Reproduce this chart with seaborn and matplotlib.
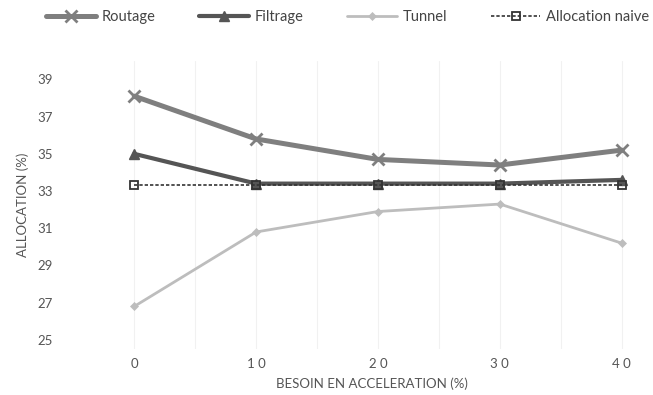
import matplotlib
matplotlib.use("Agg")
import matplotlib.pyplot as plt
import seaborn as sns
import pandas as pd

# Besoin en accélération (%)
besoin = [0, 10, 20, 30, 40]

# Allocation (%) per strategy
routage = [38.1, 35.8, 34.7, 34.4, 35.2]
filtrage = [35.0, 33.4, 33.4, 33.4, 33.6]
tunnel = [26.8, 30.8, 31.9, 32.3, 30.2]
naive = [33.3, 33.3, 33.3, 33.3, 33.3]

series_names = ["Routage", "Filtrage", "Tunnel", "Allocation naive"]
y_ticks = [25, 27, 29, 31, 33, 35, 37, 39]
x_ticks = [0, 10, 20, 30, 40]

df = pd.DataFrame({
    "besoin": besoin * 4,
    "allocation": routage + filtrage + tunnel + naive,
    "serie": sum([[n] * len(besoin) for n in series_names], []),
})

sns.set_theme(style="white")
plt.rcParams["font.family"] = ["Lato", "DejaVu Sans"]

fig = plt.figure(figsize=(6.53, 3.95), dpi=100)
ax = fig.add_axes([0.159, 0.116, 0.821, 0.730])

styles = {
    "Routage": dict(color="#7f7f7f", lw=3.6, marker="x", ms=8, mew=2.0, ls="-", zorder=4),
    "Filtrage": dict(color="#555555", lw=3.0, marker="^", ms=7, mew=1, ls="-", zorder=5),
    "Tunnel": dict(color="#bdbdbd", lw=2.0, marker="D", ms=4, mew=0.5, ls="-", zorder=3),
    "Allocation naive": dict(color="#333333", lw=1.2, marker="s", ms=6, mew=1.3, ls=(0, (2, 1.2)),
                             zorder=6, mfc="none"),
}

for name in series_names:
    st = dict(styles[name])
    z = st.pop("zorder")
    ls = st.pop("ls")
    mfc = st.pop("mfc", st["color"])
    sub = df[df["serie"] == name]
    sns.lineplot(data=sub, x="besoin", y="allocation", ax=ax, label=name,
                 linestyle=ls, markerfacecolor=mfc, markeredgecolor=st["color"],
                 zorder=z, **st)

ax.set_xlim(-2.5, 41.5)
ax.set_ylim(24.5, 40)
ax.set_yticks(y_ticks)
ax.set_xticks(x_ticks)
ax.set_xticks([5, 15, 25, 35], minor=True)
ax.grid(axis="x", which="both", color="#f1f1f1", lw=0.8)
ax.grid(axis="y", visible=False)
for s in ax.spines.values():
    s.set_visible(False)
ax.tick_params(axis="both", length=0, labelsize=9.5, colors="#555555")
ax.tick_params(axis="x", pad=6)
ax.tick_params(axis="y", pad=37)
ax.set_xticklabels([" ".join(str(v)) for v in x_ticks])

ax.set_xlabel("BESOIN EN ACCELERATION (%)", fontsize=9.5, color="#555555", labelpad=6)
ax.set_ylabel("ALLOCATION (%)", fontsize=9.5, color="#555555", labelpad=6)

leg = ax.legend(loc="center", bbox_to_anchor=(0.455, 1.153), ncol=4, frameon=False,
                fontsize=10.5, handlelength=3.4, columnspacing=3.0, handletextpad=0.4)
for t in leg.get_texts():
    t.set_color("#444444")

fig.savefig("out.png", dpi=100, facecolor="white")
